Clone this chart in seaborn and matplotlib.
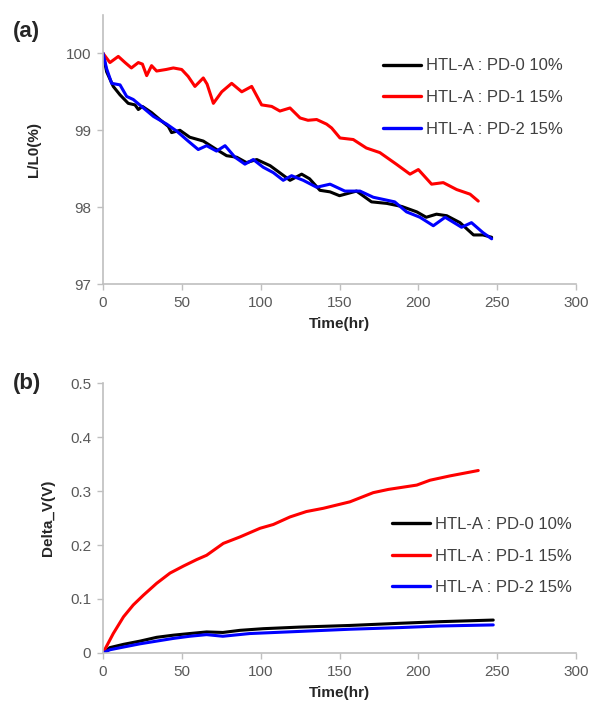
import matplotlib
matplotlib.use("Agg")
import matplotlib.pyplot as plt
import seaborn as sns
import pandas as pd

# Data (Time in hr)
labels = ["HTL-A : PD-0 10%", "HTL-A : PD-1 15%", "HTL-A : PD-2 15%"]
colors = ["#000000", "#ff0000", "#0000ff"]

# (a) luminance ratio L/L0 (%)
t_a_pd0 = [0, 2.3, 6.5, 10.8, 16, 20.3, 22.4, 25, 30.8, 36, 41.4, 43.5, 48.8, 55, 63.6, 72, 78.4,
           84.8, 91, 97.5, 106, 112, 118.6, 126, 131, 137.6, 144, 150, 160.8, 170.3, 180, 189.5,
           199, 205, 211.5, 218, 226.4, 235, 241, 246.5]
l_a_pd0 = [100.0, 99.76, 99.57, 99.46, 99.35, 99.33, 99.27, 99.31, 99.23, 99.14, 99.05, 98.97, 99.00,
           98.91, 98.86, 98.75, 98.67, 98.65, 98.58, 98.62, 98.54, 98.45, 98.35, 98.43, 98.37, 98.22,
           98.20, 98.15, 98.21, 98.07, 98.05, 98.01, 97.94, 97.87, 97.91, 97.89, 97.80, 97.64, 97.64,
           97.61]
t_a_pd1 = [0, 4.4, 9.7, 14, 18, 22.4, 25, 27.7, 30.8, 34, 40, 44.6, 49.9, 54, 58.3, 63.6, 66, 70,
           75.3, 81.6, 88, 94.3, 100.6, 107, 112.2, 118.6, 125, 130, 135.5, 141.8, 145, 150.3, 158.7,
           167, 175.6, 186, 194.7, 200, 208.4, 215.8, 224.3, 232.8, 238]
l_a_pd1 = [100.0, 99.88, 99.96, 99.88, 99.81, 99.88, 99.86, 99.71, 99.84, 99.77, 99.79, 99.81, 99.79,
           99.70, 99.57, 99.68, 99.60, 99.35, 99.50, 99.61, 99.50, 99.57, 99.33, 99.31, 99.25, 99.29,
           99.16, 99.13, 99.14, 99.08, 99.03, 98.90, 98.88, 98.77, 98.71, 98.56, 98.43, 98.49, 98.30,
           98.32, 98.23, 98.17, 98.08]
t_a_pd2 = [0, 2.3, 5.5, 10.8, 15, 19.2, 25.6, 32, 40.4, 46.7, 54, 60.4, 65.7, 72, 77.4, 83.7, 90, 95.3,
           101.6, 108, 114.3, 119.6, 127, 135.5, 144, 153.4, 163, 171.4, 185, 192.5, 201, 209.5, 217,
           227.4, 233.7, 241, 246.5]
l_a_pd2 = [100.0, 99.80, 99.61, 99.59, 99.44, 99.40, 99.29, 99.18, 99.08, 98.99, 98.86, 98.75, 98.80,
           98.73, 98.80, 98.65, 98.56, 98.62, 98.52, 98.45, 98.35, 98.41, 98.35, 98.26, 98.30, 98.21,
           98.21, 98.13, 98.07, 97.94, 97.87, 97.76, 97.87, 97.74, 97.80, 97.67, 97.59]

# (b) voltage shift Delta_V (V)
t_b_pd0 = [0, 4.4, 13, 23.5, 34, 44.6, 55, 65.7, 76, 87, 101.6, 125, 156.6, 188, 213.7, 247.5]
v_b_pd0 = [0, 0.010, 0.016, 0.022, 0.029, 0.033, 0.036, 0.039, 0.038, 0.042, 0.045, 0.048, 0.051,
           0.055, 0.058, 0.061]
t_b_pd1 = [0, 6.5, 13, 19.2, 25.6, 34, 42.5, 51, 59.4, 65.7, 76.3, 86.9, 99.6, 108, 118.6, 129,
           139.7, 156.6, 171.4, 181, 199, 207.4, 220, 238]
v_b_pd1 = [0, 0.036, 0.067, 0.089, 0.107, 0.129, 0.148, 0.161, 0.173, 0.181, 0.203, 0.215, 0.231,
           0.238, 0.252, 0.262, 0.268, 0.280, 0.297, 0.303, 0.311, 0.320, 0.328, 0.338]
t_b_pd2 = [0, 4.4, 13, 23.5, 34, 44.6, 55, 65.7, 76, 93, 125, 156.6, 188, 213.7, 247.5]
v_b_pd2 = [0, 0.006, 0.011, 0.017, 0.022, 0.027, 0.031, 0.034, 0.031, 0.036, 0.040, 0.044, 0.047,
           0.050, 0.052]


def long_frame(ts, vs, col):
    parts = []
    for lab, t, v in zip(labels, ts, vs):
        parts.append(pd.DataFrame({"t": t, col: v, "series": lab}))
    return pd.concat(parts, ignore_index=True)


df_a = long_frame([t_a_pd0, t_a_pd1, t_a_pd2], [l_a_pd0, l_a_pd1, l_a_pd2], "val")
df_b = long_frame([t_b_pd0, t_b_pd1, t_b_pd2], [v_b_pd0, v_b_pd1, v_b_pd2], "val")

sns.set_style("ticks")
plt.rcParams["font.family"] = ["Liberation Sans", "DejaVu Sans"]

fig = plt.figure(figsize=(5.92, 7.07), dpi=100)
ax_a = fig.add_axes([0.174, 0.598, 0.799, 0.381])
ax_b = fig.add_axes([0.174, 0.0764, 0.799, 0.3818])

palette = dict(zip(labels, colors))
tick_grey = "#595959"
spine_grey = "#bfbfbf"


def style_axes(ax, ylabel, yticks, ylim, tick_labels, ylab_x):
    ax.set_xlim(0, 300)
    ax.set_xticks([0, 50, 100, 150, 200, 250, 300])
    ax.set_ylim(*ylim)
    ax.set_yticks(yticks)
    ax.set_yticklabels(tick_labels)
    for side in ["top", "right"]:
        ax.spines[side].set_visible(False)
    for side in ["left", "bottom"]:
        ax.spines[side].set_color(spine_grey)
        ax.spines[side].set_linewidth(1.2)
    ax.tick_params(colors=tick_grey, labelsize=11, length=4, width=1.0, direction="out", pad=4.5)
    ax.tick_params(axis="both", color=spine_grey)
    ax.set_xlabel("Time(hr)", fontsize=11, fontweight="bold", labelpad=5)
    ax.set_ylabel(ylabel, fontsize=11, fontweight="bold")
    ax.yaxis.set_label_coords(ylab_x, 0.5)


def add_legend(ax, x0, y0):
    leg = ax.legend(loc="upper left", bbox_to_anchor=(x0, y0), frameon=False, fontsize=12,
                    handlelength=2.3, handletextpad=0.25, labelspacing=1.0,
                    borderpad=0, borderaxespad=0)
    for txt in leg.get_texts():
        txt.set_color("#404040")
    for line in leg.get_lines():
        line.set_linewidth(2.4)


sns.lineplot(data=df_a, x="t", y="val", hue="series", palette=palette, sort=False,
             linewidth=2.2, ax=ax_a, estimator=None)
style_axes(ax_a, "L/L0(%)", [97, 98, 99, 100], (97, 100.5), ["97", "98", "99", "100"], -0.131)
add_legend(ax_a, 0.592, 0.838)

sns.lineplot(data=df_b, x="t", y="val", hue="series", palette=palette, sort=False,
             linewidth=2.2, ax=ax_b, estimator=None)
style_axes(ax_b, "Delta_V(V)", [0, 0.1, 0.2, 0.3, 0.4, 0.5], (0, 0.5),
           ["0", "0.1", "0.2", "0.3", "0.4", "0.5"], -0.101)
add_legend(ax_b, 0.611, 0.504)

fig.text(0.022, 0.956, "(a)", fontsize=16, fontweight="bold", va="center", ha="left")
fig.text(0.022, 0.457, "(b)", fontsize=16, fontweight="bold", va="center", ha="left")

fig.savefig("out.png", dpi=100)
